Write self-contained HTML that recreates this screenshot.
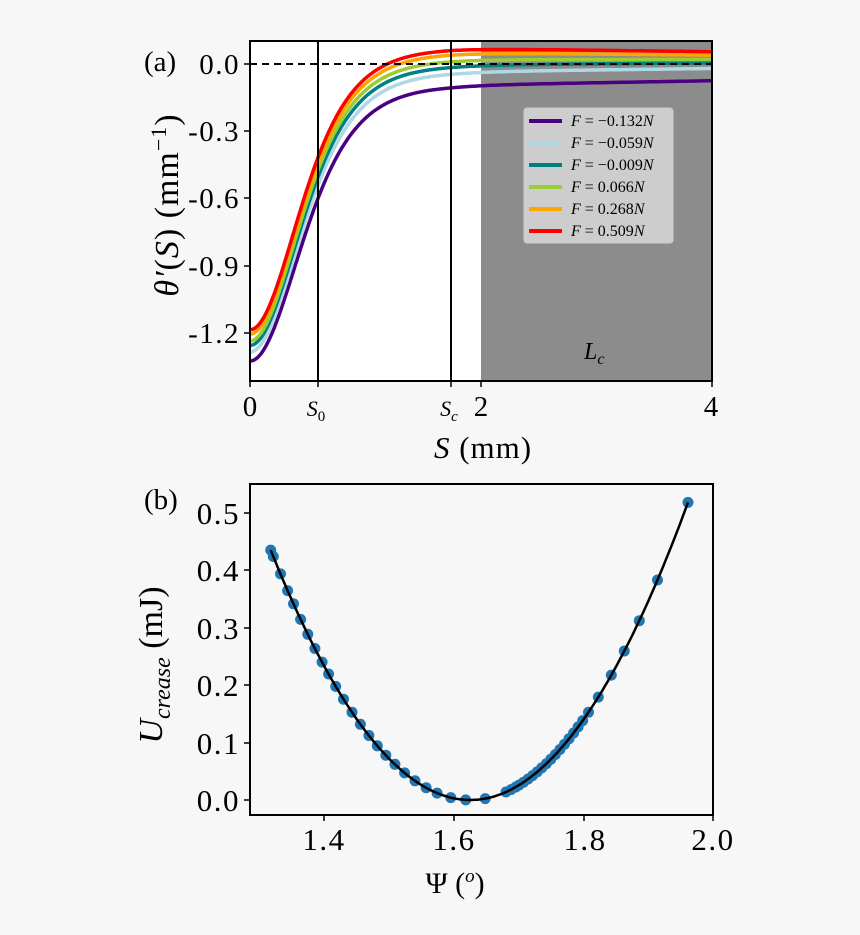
<!DOCTYPE html>
<html><head><meta charset="utf-8"><style>
html,body{margin:0;padding:0;background:#f7f7f7;}
svg{display:block;font-family:"Liberation Serif",serif;}
</style></head><body>
<svg id="s" width="860" height="935" viewBox="0 0 860 935" xmlns="http://www.w3.org/2000/svg">
<rect width="860" height="935" fill="#f7f7f7"/>
<!-- Panel a -->
<rect x="250" y="41" width="462" height="340" fill="#fff"/>
<rect x="481" y="41" width="231" height="340" fill="#8c8c8c"/>
<g id="curves"></g>
<line x1="250" y1="64" x2="712" y2="64" stroke="#000" stroke-width="2" stroke-dasharray="7,5"/>
<line x1="318" y1="41" x2="318" y2="381" stroke="#000" stroke-width="2"/>
<line x1="451" y1="41" x2="451" y2="381" stroke="#000" stroke-width="2"/>
<rect x="524" y="108" width="149" height="135" rx="3" fill="#d4d4d4" fill-opacity="0.9" stroke="#ccc"/>
<g stroke-width="4">
<line x1="529" y1="121" x2="562" y2="121" stroke="#4b0082"/>
<line x1="529" y1="143" x2="562" y2="143" stroke="#add8e6"/>
<line x1="529" y1="165" x2="562" y2="165" stroke="#008080"/>
<line x1="529" y1="187" x2="562" y2="187" stroke="#9acd32"/>
<line x1="529" y1="209" x2="562" y2="209" stroke="#ffa500"/>
<line x1="529" y1="231" x2="562" y2="231" stroke="#ff0000"/>
</g>
<g font-size="16" fill="#000">
<text x="571" y="126"><tspan font-style="italic">F</tspan> = −0.132<tspan font-style="italic">N</tspan></text>
<text x="571" y="148"><tspan font-style="italic">F</tspan> = −0.059<tspan font-style="italic">N</tspan></text>
<text x="571" y="170"><tspan font-style="italic">F</tspan> = −0.009<tspan font-style="italic">N</tspan></text>
<text x="571" y="192"><tspan font-style="italic">F</tspan> = 0.066<tspan font-style="italic">N</tspan></text>
<text x="571" y="214"><tspan font-style="italic">F</tspan> = 0.268<tspan font-style="italic">N</tspan></text>
<text x="571" y="236"><tspan font-style="italic">F</tspan> = 0.509<tspan font-style="italic">N</tspan></text>
</g>
<text x="584" y="359" font-size="24" font-style="italic">L<tspan font-size="16" dy="5">c</tspan></text>
<rect x="250" y="41" width="462" height="340" fill="none" stroke="#000" stroke-width="2"/>
<g stroke="#000" stroke-width="1.5">
<line x1="244" y1="64" x2="250" y2="64"/><line x1="244" y1="131" x2="250" y2="131"/><line x1="244" y1="198" x2="250" y2="198"/><line x1="244" y1="266" x2="250" y2="266"/><line x1="244" y1="333" x2="250" y2="333"/>
<line x1="250" y1="381" x2="250" y2="387"/><line x1="318" y1="381" x2="318" y2="387"/><line x1="451" y1="381" x2="451" y2="387"/><line x1="481" y1="381" x2="481" y2="387"/><line x1="712" y1="381" x2="712" y2="387"/>
</g>
<g font-size="29" text-anchor="end" letter-spacing="1.5">
<text x="240" y="74">0.0</text><text x="240" y="141">-0.3</text><text x="240" y="208">-0.6</text><text x="240" y="276">-0.9</text><text x="240" y="343">-1.2</text>
</g>
<g font-size="29" text-anchor="middle">
<text x="250" y="416">0</text><text x="481" y="416">2</text><text x="711" y="416">4</text>
<text x="316" y="416" font-size="22" font-style="italic">S<tspan font-size="15" dy="5" font-style="normal">0</tspan></text>
<text x="449" y="416" font-size="22" font-style="italic">S<tspan font-size="15" dy="5">c</tspan></text>
<text x="483" y="458" font-size="31" letter-spacing="1"><tspan font-style="italic">S</tspan> (mm)</text>
</g>
<text x="144" y="71" font-size="29">(a)</text>
<text transform="translate(178,205) rotate(-90)" font-size="34" text-anchor="middle" letter-spacing="1"><tspan font-style="italic">θ′</tspan>(<tspan font-style="italic">S</tspan>)  (mm<tspan font-size="22" dy="-12">−1</tspan><tspan dy="12">)</tspan></text>

<!-- Panel b -->
<rect x="250" y="484" width="463" height="331" fill="#f7f7f7" stroke="#000" stroke-width="2"/>
<g id="pts"></g>
<path id="fit" fill="none" stroke="#000" stroke-width="2.5"/>
<g stroke="#000" stroke-width="1.5">
<line x1="244" y1="800" x2="250" y2="800"/><line x1="244" y1="743" x2="250" y2="743"/><line x1="244" y1="685" x2="250" y2="685"/><line x1="244" y1="628" x2="250" y2="628"/><line x1="244" y1="570" x2="250" y2="570"/><line x1="244" y1="513" x2="250" y2="513"/>
<line x1="324" y1="815" x2="324" y2="821"/><line x1="454" y1="815" x2="454" y2="821"/><line x1="584" y1="815" x2="584" y2="821"/><line x1="713" y1="815" x2="713" y2="821"/>
</g>
<g font-size="31" text-anchor="end" letter-spacing="1.5">
<text x="240" y="811">0.0</text><text x="240" y="754">0.1</text><text x="240" y="696">0.2</text><text x="240" y="639">0.3</text><text x="240" y="581">0.4</text><text x="240" y="524">0.5</text>
</g>
<g font-size="31" text-anchor="middle" letter-spacing="1.5">
<text x="324" y="850">1.4</text><text x="454" y="850">1.6</text><text x="585" y="850">1.8</text><text x="713" y="850">2.0</text>
</g>
<text x="455" y="893" font-size="30" text-anchor="middle">Ψ (<tspan font-style="italic" font-size="19" dy="-11">o</tspan><tspan dy="11">)</tspan></text>
<text x="144" y="509" font-size="29">(b)</text>
<text transform="translate(162,665) rotate(-90)" font-size="34" text-anchor="middle"><tspan font-style="italic">U<tspan font-size="24" dy="8">crease</tspan></tspan><tspan dy="-8">  (mJ)</tspan></text>
</svg>
<script>
(function(){
var ns="http://www.w3.org/2000/svg";
function X(s){return 250+s*115.5;}
function Y(v){return 64-v*223.3;}
var C=[["#4b0082",-1.33,-0.095,-0.075,0.58],["#add8e6",-1.29,-0.035,-0.02,0.575],["#008080",-1.26,-0.005,0.005,0.57],["#9acd32",-1.24,0.02,0.02,0.565],["#ffa500",-1.21,0.05,0.04,0.565],["#ff0000",-1.19,0.07,0.055,0.56]];
var g=document.getElementById("curves");
C.forEach(function(c){
 var d="";
 for(var i=0;i<=400;i++){var s=i*0.01;
  var b=c[2]+(c[3]-c[2])*Math.max(0,(s-1.74))/2.26;
  var ch=Math.cosh(s/c[4]);
  var v=b+(c[1]-b)/(ch*ch);
  d+=(i?"L":"M")+X(s).toFixed(1)+","+Y(v).toFixed(1);}
 var p=document.createElementNS(ns,"path");p.setAttribute("d",d);p.setAttribute("fill","none");p.setAttribute("stroke",c[0]);p.setAttribute("stroke-width","3.5");g.appendChild(p);
});
function BX(p){return 324+(p-1.4)*650;}
function BY(u){return 800-u*574;}
function U(p){return 4.62*(p-1.625)*(p-1.625);}
var ps=[1.318,1.322,1.333,1.344,1.353,1.364,1.375,1.386,1.397,1.407,1.418,1.43,1.443,1.456,1.469,1.482,1.495,1.509,1.524,1.54,1.557,1.574,1.595,1.618,1.648,1.68,1.688,1.695];
for(var p=1.70;p<1.80;p+=0.007)ps.push(p);
ps=ps.concat([1.807,1.822,1.842,1.862,1.885,1.913,1.96]);
var pg=document.getElementById("pts");
ps.forEach(function(p){var c=document.createElementNS(ns,"circle");c.setAttribute("cx",BX(p).toFixed(1));c.setAttribute("cy",BY(U(p)).toFixed(1));c.setAttribute("r","5.5");c.setAttribute("fill","#1f77b4");pg.appendChild(c);});
var d="";for(var i=0;i<=200;i++){var p=1.318+(1.96-1.318)*i/200;d+=(i?"L":"M")+BX(p).toFixed(1)+","+BY(U(p)).toFixed(1);}
document.getElementById("fit").setAttribute("d",d);
})();
</script>
</body></html>
